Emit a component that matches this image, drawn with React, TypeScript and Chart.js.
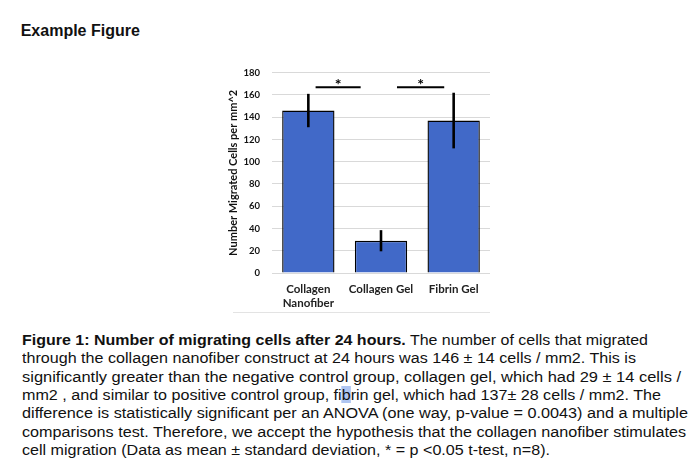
import React, { useEffect, useLayoutEffect, useRef } from "react";
import { Chart, registerables } from "chart.js";

Chart.register(...registerables);

const categories: (string | string[])[] = [["Collagen", "Nanofiber"], "Collagen Gel", "Fibrin Gel"];
const means = [146, 29, 137];
const errors = [15, 9.5, 25];
const yMin = 0;
const yMax = 180;
const yStep = 20;
const yTitle = "Number Migrated Cells per mm^2";
const sigFrom = [0.1, 1.22];
const sigTo = [0.72, 1.87];
const sigLevel = [167, 167];
const sigStarLevel = [172.5, 172.5];
const sigLabel = ["*", "*"];

const captionLines = [
  "through the collagen nanofiber construct at 24 hours was 146 \u00b1 14 cells / mm2. This is",
  "significantly greater than the negative control group, collagen gel, which had 29 \u00b1 14 cells /",
  null,
  "difference is statistically significant per an ANOVA (one way, p-value = 0.0043) and a multiple",
  "comparisons test. Therefore, we accept the hypothesis that the collagen nanofiber stimulates",
  "cell migration (Data as mean \u00b1 standard deviation, * = p <0.05 t-test, n=8).",
];
// measured widths of each caption line in the reference (px)
const captionWidths = [626, 614, 659, 639, 666, 664, 528];

const LABEL_FONT = "Lato, 'Open Sans', sans-serif";

const overlayPlugin = {
  id: "overlay",
  afterDatasetsDraw(chart: any) {
    const ctx = chart.ctx;
    const x = chart.scales.x;
    const y = chart.scales.y;
    const meta = chart.getDatasetMeta(0);
    ctx.save();
    ctx.strokeStyle = "#000";
    ctx.lineWidth = 2.6;
    meta.data.forEach((bar: any, i: number) => {
      ctx.beginPath();
      ctx.moveTo(bar.x, y.getPixelForValue(means[i] - errors[i]));
      ctx.lineTo(bar.x, y.getPixelForValue(means[i] + errors[i]));
      ctx.stroke();
    });
    ctx.lineWidth = 2;
    ctx.fillStyle = "#000";
    ctx.font = `bold 16px ${LABEL_FONT}`;
    ctx.textAlign = "center";
    ctx.textBaseline = "middle";
    sigFrom.forEach((f, i) => {
      const yy = y.getPixelForValue(sigLevel[i]);
      ctx.beginPath();
      ctx.moveTo(x.getPixelForValue(f), yy);
      ctx.lineTo(x.getPixelForValue(sigTo[i]), yy);
      ctx.stroke();
      const mid = (f + sigTo[i]) / 2;
      ctx.fillText(sigLabel[i], x.getPixelForValue(mid), y.getPixelForValue(sigStarLevel[i]) + 3.5);
    });
    ctx.restore();
  },
};

function BarChart() {
  const ref = useRef<HTMLCanvasElement | null>(null);
  useEffect(() => {
    if (!ref.current) return;
    const chart = new Chart(ref.current, {
      type: "bar",
      data: {
        labels: categories as any,
        datasets: [
          {
            data: means,
            backgroundColor: "#4169C8",
            borderColor: "#000",
            borderWidth: 1.4,
            barPercentage: 0.72,
            categoryPercentage: 1,
          },
        ],
      },
      options: {
        responsive: false,
        animation: false,
        layout: { padding: { left: 0, top: 11.7, right: 10, bottom: 0 } },
        plugins: { legend: { display: false }, tooltip: { enabled: false } },
        scales: {
          x: {
            grid: { display: false, drawTicks: false },
            border: { display: false },
            ticks: {
              padding: 8.9,
              color: "#222",
              font: { family: LABEL_FONT, size: 11.5, weight: "bold", lineHeight: 1.25 },
              maxRotation: 0,
              autoSkip: false,
            },
            afterFit: (s: any) => {
              s.height = 42;
            },
          },
          y: {
            min: yMin,
            max: yMax,
            grid: { color: "#d9d9d9", lineWidth: 1, drawTicks: false },
            border: { display: false },
            ticks: {
              stepSize: yStep,
              padding: 12,
              color: "#111",
              font: { family: LABEL_FONT, size: 9.5, weight: "bold" },
            },
            title: {
              display: true,
              text: yTitle,
              color: "#111",
              font: { family: LABEL_FONT, size: 11, weight: "bold" },
              padding: { top: 26.4, bottom: 0 },
            },
            afterFit: (s: any) => {
              s.width = 72;
            },
          },
        },
      },
      plugins: [overlayPlugin],
    });
    return () => chart.destroy();
  }, []);
  return <canvas ref={ref} width={300} height={260} style={{ display: "block" }} />;
}

function CaptionLine({ width, children }: { width: number; children: React.ReactNode }) {
  const ref = useRef<HTMLSpanElement | null>(null);
  useLayoutEffect(() => {
    const el = ref.current;
    if (!el) return;
    el.style.transform = "none";
    const w = el.getBoundingClientRect().width;
    if (w > 0) el.style.transform = `scaleX(${width / w})`;
  }, [width]);
  return (
    <div style={{ height: "18.33px" }}>
      <span ref={ref} style={{ display: "inline-block", transformOrigin: "0 0", whiteSpace: "nowrap" }}>
        {children}
      </span>
    </div>
  );
}

export default function App() {
  return (
    <div
      style={{
        position: "absolute",
        left: 0,
        top: 0,
        width: 694,
        height: 466,
        background: "#fff",
        overflow: "hidden",
      }}
    >
      <div
        style={{
          position: "absolute",
          left: 20.7,
          top: 21,
          fontFamily: "'Liberation Sans', Arial, sans-serif",
          fontWeight: "bold",
          fontSize: 16,
          lineHeight: "20px",
          color: "#111",
          whiteSpace: "nowrap",
        }}
      >
        Example Figure
      </div>
      <div style={{ position: "absolute", left: 200, top: 55 }}>
        <BarChart />
      </div>
      <div
        style={{
          position: "absolute",
          left: 233,
          top: 312,
          width: 257,
          height: 1,
          background: "#e3e3e3",
        }}
      />
      <div
        style={{
          position: "absolute",
          left: 21.5,
          top: 331,
          fontFamily: "'Liberation Sans', Arial, sans-serif",
          fontSize: 15.2,
          lineHeight: "18.33px",
          color: "#111",
          whiteSpace: "nowrap",
        }}
      >
        <CaptionLine width={captionWidths[0]}>
          <b>Figure 1: Number of migrating cells after 24 hours.</b> The number of cells that migrated
        </CaptionLine>
        {captionLines.map((line, i) => (
          <CaptionLine key={i} width={captionWidths[i + 1]}>
            {line === null ? (
              <>
                mm2 , and similar to positive control group, fi
                <span style={{ background: "rgba(110,150,230,0.55)" }}>b</span>
                rin gel, which had 137&plusmn; 28 cells / mm2. The
              </>
            ) : (
              line
            )}
          </CaptionLine>
        ))}
      </div>
    </div>
  );
}
